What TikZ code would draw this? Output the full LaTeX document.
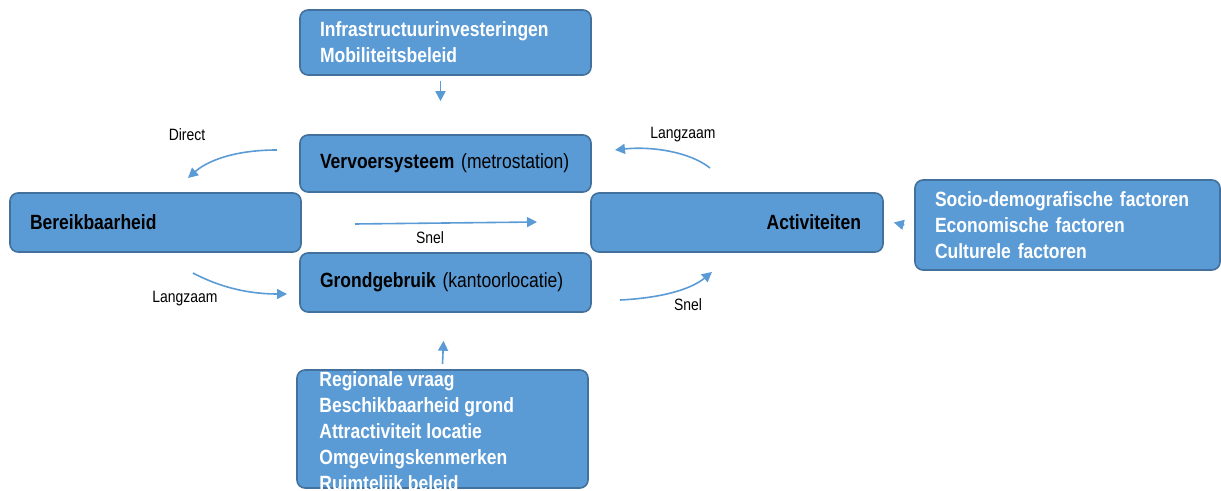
\documentclass[tikz,border=0pt]{standalone}
\usepackage{fontspec}
\setmainfont{Liberation Sans}[FakeStretch=0.85]
\usetikzlibrary{arrows.meta}

\definecolor{blokblauw}{RGB}{91,155,213}
\definecolor{randblauw}{RGB}{65,113,156}

\tikzset{
  blok/.style={rectangle, rounded corners=4pt, fill=blokblauw, draw=randblauw,
    line width=0.8pt, inner xsep=10pt, inner ysep=2pt, align=left,
    font=\fontsize{10.3}{13}\selectfont\bfseries},
  pijl/.style={draw=blokblauw, line width=0.8pt,
    -{Triangle[length=5pt,width=5pt]}},
  label/.style={font=\fontsize{8.2}{10}\selectfont, inner sep=0pt}
}

\begin{document}
\begin{tikzpicture}[x=0.5pt, y=-0.5pt]
  \useasboundingbox (0,0) rectangle (1221,491);
  \clip (0,0) rectangle (1221,491);

  % blokken
  \node[blok, minimum width=145.5pt, minimum height=32.5pt, text width=125.5pt,
    text=white] (infra) at (445.5,42.5)
    {Infrastructuurinvesteringen\\Mobiliteitsbeleid};
  \node[blok, minimum width=145.5pt, minimum height=28.5pt, text width=125.5pt]
    (vervoer) at (445.5,163.5)
    {Vervoersysteem \mdseries(metrostation)};
  \node[blok, minimum width=145.5pt, minimum height=29.5pt, text width=125.5pt]
    (grond) at (445.5,282.5)
    {Grondgebruik \mdseries(kantoorlocatie)};
  \node[blok, minimum width=145.5pt, minimum height=29.5pt, text width=125.5pt]
    (bereik) at (155.5,222.5) {Bereikbaarheid};
  \node[blok, minimum width=146pt, minimum height=29.5pt, text width=124pt,
    align=right, inner xsep=11pt] (activ) at (737,222.5) {Activiteiten};
  \node[blok, minimum width=152.5pt, minimum height=45pt, text width=132.5pt,
    text=white] (socio) at (1067.5,225)
    {Socio-demografische factoren\\Economische factoren\\Culturele factoren};
  \node[blok, minimum width=145.5pt, minimum height=59pt] (regio) at (442.5,429) {};
  \node[anchor=north west, inner sep=0pt, align=left, text=white,
    font=\fontsize{10.3}{13}\selectfont\bfseries] (regiotekst) at (319,371)
    {Regionale vraag\\Beschikbaarheid grond\\Attractiviteit locatie\\
     Omgevingskenmerken\\Ruimtelijk beleid};

  % vrije eindpunten van de gebogen pijlen
  \coordinate (D1) at (277,150);
  \coordinate (D2) at (188,178);
  \coordinate (L1) at (710,168);
  \coordinate (L2) at (615,150);
  \coordinate (L3) at (193,273);
  \coordinate (L4) at (287,294);
  \coordinate (S1) at (355,224);
  \coordinate (S2) at (537,222);
  \coordinate (S3) at (620,300);
  \coordinate (S4) at (712,272);

  % pijlen
  \draw[pijl] ([shift={(-5,5)}]infra.south) -- ([shift={(-5,-33)}]vervoer.north);
  \draw[pijl] ([shift={(0,-7)}]regiotekst.north -| regio.north)
    -- ([shift={(-2,28)}]grond.south);
  \draw[pijl] ([xshift=-5]socio.west) -- ([xshift=5]activ.east);
  \draw[pijl] (S1) -- (S2);
  \draw[pijl] (D1) .. controls (232,150) and (206,162) .. (D2);
  \draw[pijl] (L1) .. controls (690,152) and (652,146) .. (L2);
  \draw[pijl] (L3) .. controls (225,290) and (255,294) .. (L4);
  \draw[pijl] (S3) .. controls (660,298) and (690,290) .. (S4);

  % labels
  \node[label] (direct) at (187,135) {Direct};
  \node[label] (langzaam1) at (683,135) {Langzaam};
  \node[label] (snel1) at (430,238) {Snel};
  \node[label] (langzaam2) at (185,299) {Langzaam};
  \node[label] (snel2) at (688,305) {Snel};
\end{tikzpicture}
\end{document}
